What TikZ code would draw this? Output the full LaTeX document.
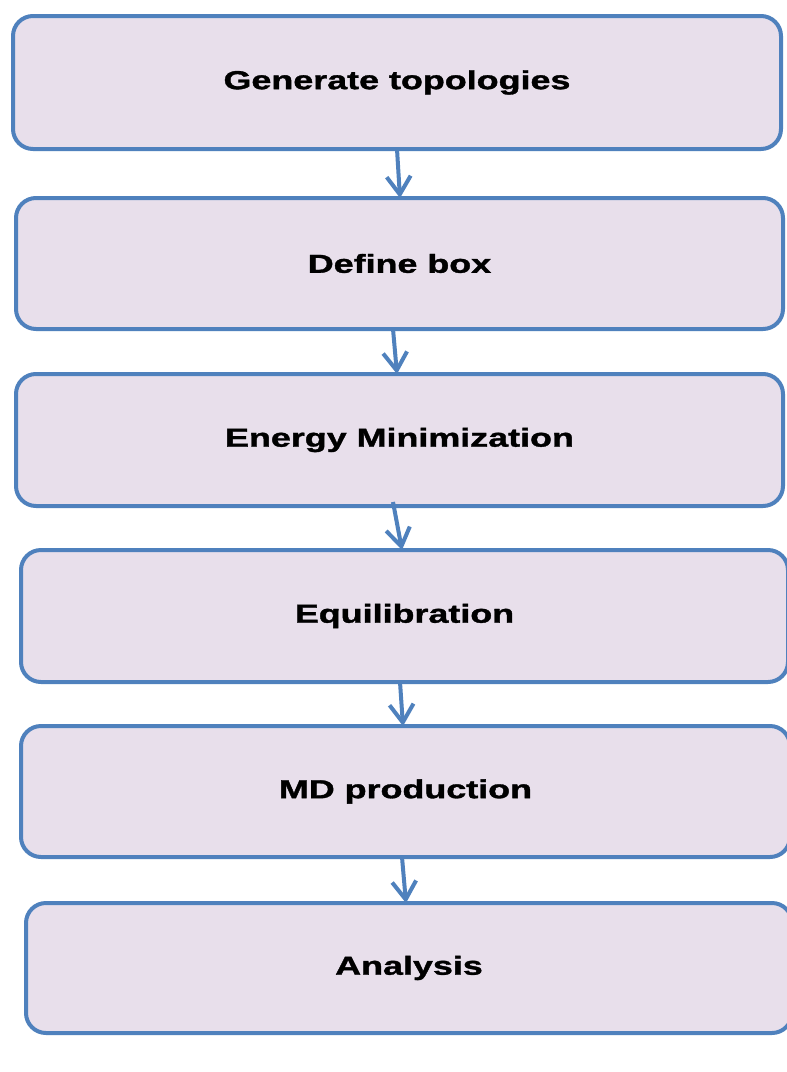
\documentclass[tikz,border=0pt]{standalone}
\usepackage{fontspec}
\setmainfont{Liberation Sans}
\newfontfamily\heavyfont[FakeBold=1.2]{Liberation Sans Bold}
\usetikzlibrary{arrows.meta}
\definecolor{boxblue}{RGB}{79,129,189}
\definecolor{boxfill}{RGB}{232,223,235}
\tikzset{
  stepbox/.style={draw=boxblue, fill=boxfill, line width=4pt, rounded corners=20pt,
    inner sep=0pt, font=\fontsize{26}{30}\selectfont\heavyfont},
  flowarrow/.style={draw=boxblue, line width=4pt,
    -{Straight Barb[length=18pt,width=24pt,line width=4pt]}},
}
\newcommand{\wide}[1]{\scalebox{1.38}[1]{#1}}
\begin{document}
\begin{tikzpicture}[x=1pt,y=-1pt]
\useasboundingbox (0,0) rectangle (787,1072);
\fill[white] (0,0) rectangle (787,1072);
\node[stepbox, minimum width=768pt, minimum height=133pt] (b1) at (397,82.5) {\wide{Generate topologies}};
\node[stepbox, minimum width=767pt, minimum height=131pt] (b2) at (399.5,263.5) {\wide{Define box}};
\node[stepbox, minimum width=767pt, minimum height=132pt] (b3) at (399.5,440) {\wide{Energy Minimization}};
\node[stepbox, minimum width=767pt, minimum height=132pt] (b4) at (404.5,616) {\wide{Equilibration}};
\node[stepbox, minimum width=769pt, minimum height=131pt] (b5) at (405.5,791.5) {\wide{MD production}};
\node[stepbox, minimum width=766pt, minimum height=130pt] (b6) at (409,968) {\wide{Analysis}};
\draw[flowarrow] ([xshift=0pt,yshift=2pt]b1.south) -- ([xshift=0.5pt,yshift=-2pt]b2.north);
\draw[flowarrow] ([xshift=-6.5pt,yshift=2pt]b2.south) -- ([xshift=-2.5pt,yshift=-2pt]b3.north);
\draw[flowarrow] ([xshift=-6.5pt,yshift=6pt]b3.south) -- ([xshift=-2.5pt,yshift=-2pt]b4.north);
\draw[flowarrow] ([xshift=-4.5pt,yshift=2pt]b4.south) -- ([xshift=-2.5pt,yshift=-2pt]b5.north);
\draw[flowarrow] ([xshift=-3.5pt,yshift=2pt]b5.south) -- ([xshift=-3pt,yshift=-2pt]b6.north);
\end{tikzpicture}
\end{document}
